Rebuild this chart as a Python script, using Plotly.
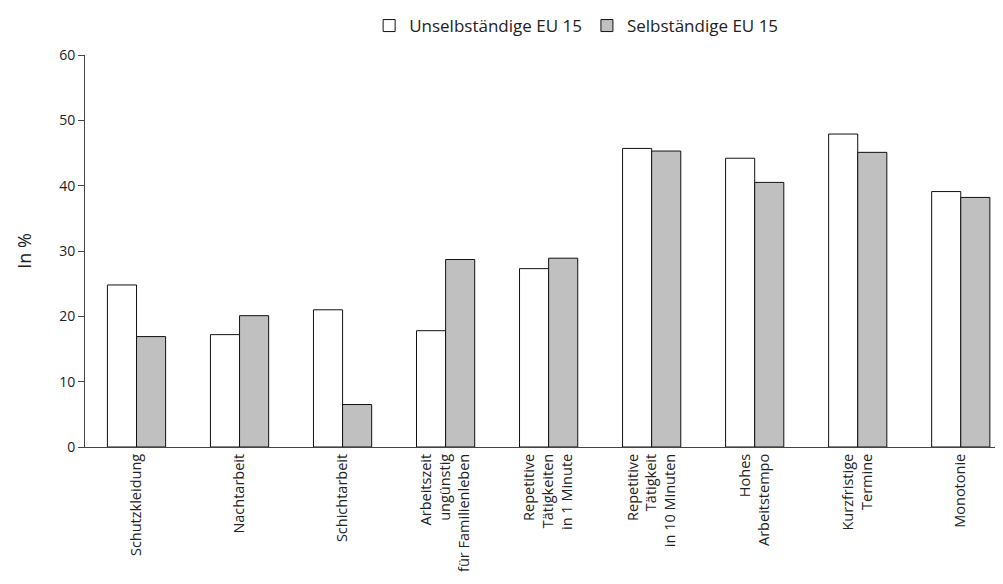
import plotly.graph_objects as go

categories = [
    "Schutzkleidung",
    "Nachtarbeit",
    "Schichtarbeit",
    "Arbeitszeit<br>ungünstig<br>für Familienleben",
    "Repetitive<br>Tätigkeiten<br>in 1 Minute",
    "Repetitive<br>Tätigkeit<br>in 10 Minuten",
    "Hohes<br>Arbeitstempo",
    "Kurzfristige<br>Termine",
    "Monotonie",
]
unselbstaendige = [24.8, 17.2, 21.0, 17.8, 27.3, 45.7, 44.2, 47.9, 39.1]
selbstaendige = [16.9, 20.1, 6.5, 28.7, 28.9, 45.3, 40.5, 45.1, 38.2]
y_ticks = [0, 10, 20, 30, 40, 50, 60]

FONT = "'Open Sans', Lato, sans-serif"
x_idx = list(range(len(categories)))

fig = go.Figure()
fig.add_trace(go.Bar(
    x=x_idx, y=unselbstaendige, name="Unselbständige EU 15",
    marker=dict(color="white", line=dict(color="#111", width=1)),
))
fig.add_trace(go.Bar(
    x=x_idx, y=selbstaendige, name="Selbständige EU 15",
    marker=dict(color="#c0c0c0", line=dict(color="#111", width=1)),
))

# page body adds an 8px margin, so the figure is sized to fit the window
fig.update_layout(
    width=995, height=576,
    margin=dict(l=77, r=0, t=47, b=137, autoexpand=False),
    plot_bgcolor="white", paper_bgcolor="white",
    barmode="group", bargap=0.435, bargroupgap=0,
    font=dict(family=FONT, size=14, color="#222"),
    legend=dict(
        orientation="h", x=0.535, xanchor="center", y=1.0, yanchor="top",
        yref="container", font=dict(size=17), itemwidth=30,
        traceorder="normal",
    ),
    showlegend=True,
)

fig.update_xaxes(
    tickmode="array", tickvals=x_idx, ticktext=categories,
    tickangle=-90, range=[-0.5, 8.41],
    showline=True, linecolor="#444", linewidth=1,
    ticks="", showgrid=False, tickfont=dict(size=14.5),
    automargin=False,
)
fig.update_yaxes(
    range=[0, 60], tickvals=y_ticks,
    showline=True, linecolor="#444", linewidth=1,
    ticks="outside", ticklen=6, tickcolor="#444",
    showgrid=False, zeroline=False,
    title=dict(text="In %", font=dict(size=18), standoff=22),
    tickfont=dict(size=14), automargin=False,
)

fig.write_html("out.html")
